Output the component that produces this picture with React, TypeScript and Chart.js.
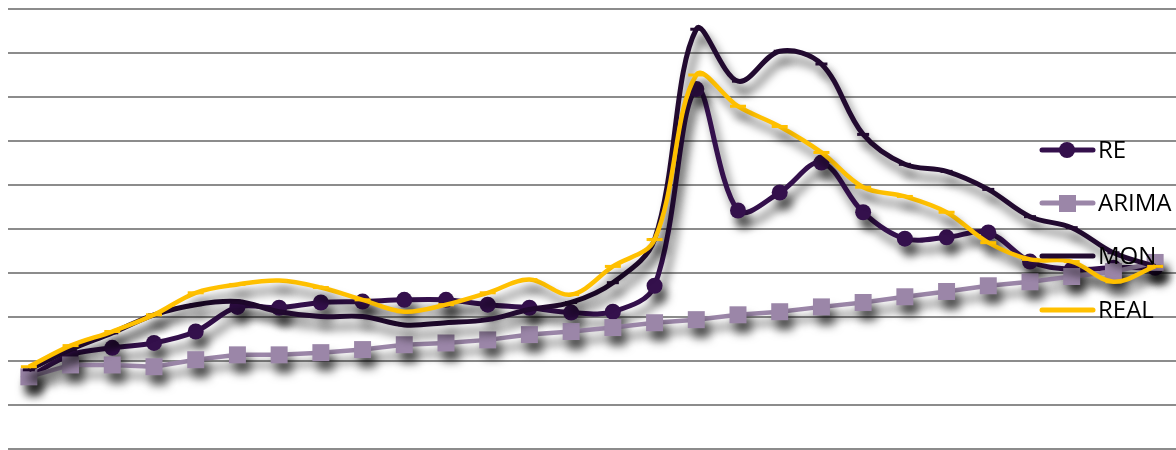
import React, { useEffect, useRef } from "react";
import { Chart, registerables } from "chart.js";

Chart.register(...registerables);

const categories = Array.from({ length: 28 }, (_, i) => String(i + 1));

const reValues = [1.64, 2.14, 2.3, 2.41, 2.67, 3.23, 3.21, 3.33, 3.35, 3.39, 3.39, 3.28, 3.21, 3.1, 3.12, 3.71, 8.18, 5.42, 5.83, 6.51, 5.38, 4.78, 4.81, 4.92, 4.26, 4.08, 4.12, 4.12];
const arimaValues = [1.64, 1.91, 1.91, 1.87, 2.03, 2.14, 2.14, 2.19, 2.26, 2.37, 2.41, 2.48, 2.6, 2.67, 2.76, 2.87, 2.94, 3.05, 3.12, 3.23, 3.33, 3.46, 3.58, 3.71, 3.8, 3.92, 4.03, 4.24];
const monValues = [1.8, 2.26, 2.64, 3.05, 3.28, 3.35, 3.12, 3.01, 3.01, 2.82, 2.87, 2.94, 3.17, 3.33, 3.78, 4.76, 9.54, 8.36, 9.04, 8.75, 7.15, 6.47, 6.31, 5.9, 5.28, 5.03, 4.46, 4.15];
const realValues = [1.87, 2.35, 2.67, 3.05, 3.55, 3.74, 3.83, 3.67, 3.39, 3.12, 3.28, 3.55, 3.85, 3.51, 4.15, 4.76, 8.5, 7.79, 7.33, 6.74, 5.95, 5.74, 5.38, 4.69, 4.31, 4.26, 3.8, 4.15];

const seriesNames = ["RE", "ARIMA", "MON", "REAL"];
const seriesColors = ["#34104c", "#9b86a8", "#220a30", "#ffc000"];

const shadowPlugin = {
  id: "lineShadow",
  beforeDatasetDraw(chart: any) {
    const ctx = chart.ctx;
    ctx.save();
    ctx.shadowColor = "rgba(0,0,0,0.6)";
    ctx.shadowBlur = 10;
    ctx.shadowOffsetX = 5;
    ctx.shadowOffsetY = 10;
  },
  afterDatasetDraw(chart: any) {
    chart.ctx.restore();
  },
};

const legendPlugin = {
  id: "customLegend",
  afterDraw(chart: any) {
    const ctx = chart.ctx;
    const ys = [150, 203, 256, 310];
    ctx.save();
    seriesNames.forEach((name, i) => {
      const y = ys[i];
      const color = seriesColors[i];
      ctx.strokeStyle = color;
      ctx.lineWidth = 5;
      ctx.lineCap = "round";
      ctx.beginPath();
      ctx.moveTo(1042, y);
      ctx.lineTo(1093, y);
      ctx.stroke();
      ctx.fillStyle = color;
      if (i === 0) {
        ctx.beginPath();
        ctx.arc(1067, y, 8, 0, Math.PI * 2);
        ctx.fill();
      } else if (i === 1) {
        ctx.fillRect(1059, y - 8, 17, 17);
      }
      ctx.fillStyle = "#000000";
      ctx.font = "24px 'Open Sans', Lato, sans-serif";
      ctx.textBaseline = "middle";
      ctx.textAlign = "left";
      ctx.fillText(name, 1098, y + 1);
    });
    ctx.restore();
  },
};

export default function App() {
  const canvasRef = useRef<HTMLCanvasElement>(null);

  useEffect(() => {
    if (!canvasRef.current) return;
    const chart = new Chart(canvasRef.current, {
      type: "line",
      data: {
        labels: categories,
        datasets: [
          {
            label: seriesNames[0],
            data: reValues,
            borderColor: seriesColors[0],
            backgroundColor: seriesColors[0],
            borderWidth: 5,
            tension: 0.35,
            pointStyle: "circle",
            pointRadius: 8,
            pointBorderWidth: 0,
            order: 3,
          },
          {
            label: seriesNames[1],
            data: arimaValues,
            borderColor: seriesColors[1],
            backgroundColor: seriesColors[1],
            borderWidth: 4.5,
            tension: 0,
            pointStyle: "rect",
            pointRadius: 12,
            pointBorderWidth: 0,
            order: 2,
          },
          {
            label: seriesNames[2],
            data: monValues,
            borderColor: seriesColors[2],
            backgroundColor: seriesColors[2],
            borderWidth: 5,
            tension: 0.35,
            pointStyle: "line",
            pointRadius: 6,
            pointBorderWidth: 3,
            order: 1,
          },
          {
            label: seriesNames[3],
            data: realValues,
            borderColor: seriesColors[3],
            backgroundColor: seriesColors[3],
            borderWidth: 4.5,
            tension: 0.35,
            pointStyle: "line",
            pointRadius: 8,
            pointBorderWidth: 3,
            order: 0,
          },
        ],
      },
      options: {
        animation: false,
        responsive: false,
        clip: false as any,
        layout: { autoPadding: false, padding: { left: 8, top: 9, right: 0, bottom: 1 } },
        plugins: {
          legend: { display: false },
          tooltip: { enabled: false },
        },
        scales: {
          x: {
            type: "category",
            offset: true,
            display: false,
          },
          y: {
            min: 0,
            max: 10,
            ticks: { display: false, stepSize: 1 },
            grid: { color: "#8c8c8c", lineWidth: 2, drawTicks: false },
            border: { display: false },
          },
        },
      },
      plugins: [shadowPlugin, legendPlugin],
    });
    return () => chart.destroy();
  }, []);

  return (
    <div style={{ position: "absolute", left: 0, top: 0, width: 1176, height: 450, background: "#ffffff" }}>
      <canvas ref={canvasRef} width={1176} height={450} style={{ width: 1176, height: 450 }} />
    </div>
  );
}
